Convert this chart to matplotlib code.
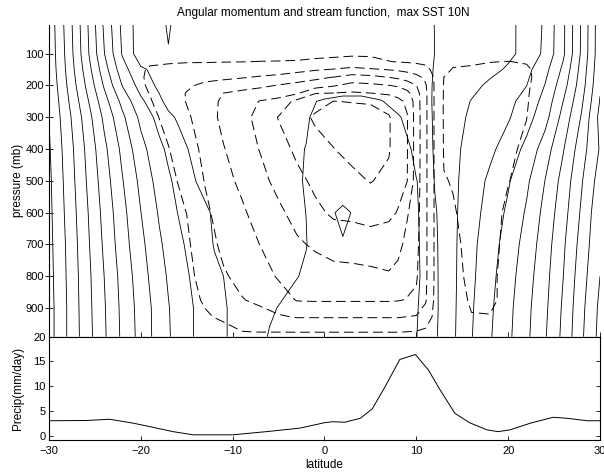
import numpy as np
import matplotlib
matplotlib.use("Agg")
import matplotlib.pyplot as plt

plt.rcParams['font.family'] = ['Liberation Sans', 'DejaVu Sans']
plt.rcParams['lines.scale_dashes'] = False
plt.rcParams['lines.dashed_pattern'] = [7, 3.5]

# angular momentum (normalised by Omega a^2)
m_lat = [-30, -28, -26, -24, -22, -20, -18, -17, -16, -14, -12, -10, -8, -6, -4, -2,
         0, 2, 4, 6, 8, 10, 11, 12, 13, 14, 16, 18, 20, 22, 24, 26, 28, 30]
m_p = [10, 100, 150, 200, 250, 300, 400, 500, 600, 700, 800, 900, 990]
m_vals = [
    [0.767, 0.808, 0.854, 0.903, 0.945, 0.971, 0.968, 0.957, 0.968, 0.970, 0.970, 0.970, 0.970, 0.970, 0.970, 0.970, 0.970, 0.970, 0.970, 0.970, 0.970, 0.970, 0.970, 0.9595, 0.9575, 0.9554, 0.9513, 0.9472, 0.9431, 0.9357, 0.9169, 0.8836, 0.8375, 0.7871],
    [0.766, 0.806, 0.852, 0.899, 0.942, 0.972, 0.968, 0.9615, 0.968, 0.970, 0.970, 0.970, 0.970, 0.970, 0.970, 0.970, 0.970, 0.970, 0.970, 0.970, 0.970, 0.970, 0.970, 0.9598, 0.9579, 0.9558, 0.9516, 0.9474, 0.9432, 0.9355, 0.9154, 0.8833, 0.8365, 0.7871],
    [0.765, 0.804, 0.847, 0.891, 0.932, 0.957, 0.966, 0.968, 0.969, 0.970, 0.970, 0.970, 0.970, 0.970, 0.970, 0.970, 0.970, 0.970, 0.970, 0.970, 0.970, 0.970, 0.965, 0.9589, 0.9564, 0.954, 0.9491, 0.9442, 0.9381, 0.9256, 0.9067, 0.8756, 0.8324, 0.785],
    [0.763, 0.801, 0.841, 0.882, 0.921, 0.948, 0.964, 0.967, 0.968, 0.970, 0.970, 0.970, 0.970, 0.970, 0.970, 0.970, 0.971, 0.972, 0.972, 0.971, 0.970, 0.970, 0.965, 0.958, 0.9546, 0.9512, 0.9444, 0.9371, 0.9287, 0.9203, 0.8995, 0.868, 0.8288, 0.7825],
    [0.761, 0.797, 0.834, 0.872, 0.906, 0.936, 0.956, 0.966, 0.968, 0.969, 0.970, 0.970, 0.970, 0.972, 0.975, 0.978, 0.9815, 0.984, 0.984, 0.981, 0.976, 0.970, 0.965, 0.9577, 0.953, 0.9484, 0.9393, 0.9319, 0.9246, 0.9133, 0.8933, 0.8598, 0.8233, 0.7788],
    [0.760, 0.793, 0.828, 0.864, 0.896, 0.925, 0.947, 0.956, 0.962, 0.966, 0.968, 0.970, 0.972, 0.975, 0.977, 0.979, 0.984, 0.987, 0.988, 0.986, 0.981, 0.975, 0.966, 0.9578, 0.9523, 0.9467, 0.937, 0.9295, 0.9219, 0.908, 0.8875, 0.8527, 0.818, 0.7741],
    [0.758, 0.789, 0.822, 0.855, 0.885, 0.913, 0.935, 0.944, 0.952, 0.966, 0.968, 0.970, 0.972, 0.975, 0.978, 0.9802, 0.985, 0.988, 0.989, 0.988, 0.985, 0.978, 0.967, 0.9583, 0.9514, 0.9445, 0.9336, 0.9242, 0.9115, 0.8947, 0.870, 0.8413, 0.8083, 0.7782],
    [0.756, 0.787, 0.819, 0.850, 0.879, 0.905, 0.928, 0.937, 0.945, 0.9601, 0.966, 0.969, 0.972, 0.975, 0.978, 0.9805, 0.986, 0.990, 0.990, 0.989, 0.986, 0.9802, 0.978, 0.959, 0.9518, 0.9443, 0.9302, 0.9164, 0.9021, 0.8838, 0.8599, 0.8326, 0.8016, 0.7709],
    [0.755, 0.785, 0.816, 0.846, 0.874, 0.8997, 0.922, 0.931, 0.9401, 0.953, 0.962, 0.965, 0.969, 0.972, 0.976, 0.9801, 0.996, 1.003, 0.996, 0.990, 0.987, 0.981, 0.977, 0.9622, 0.9527, 0.944, 0.9279, 0.9123, 0.8964, 0.8776, 0.8541, 0.8277, 0.7969, 0.765],
    [0.754, 0.783, 0.814, 0.843, 0.871, 0.895, 0.917, 0.926, 0.935, 0.949, 0.9608, 0.964, 0.968, 0.972, 0.976, 0.9795, 0.990, 0.999, 0.994, 0.990, 0.987, 0.9815, 0.977, 0.9634, 0.9531, 0.9439, 0.9252, 0.9086, 0.8918, 0.8722, 0.850, 0.8231, 0.7923, 0.7629],
    [0.753, 0.782, 0.812, 0.8399, 0.867, 0.891, 0.913, 0.922, 0.931, 0.945, 0.957, 0.963, 0.968, 0.973, 0.977, 0.982, 0.988, 0.992, 0.992, 0.990, 0.987, 0.982, 0.977, 0.9639, 0.9533, 0.9438, 0.924, 0.9061, 0.8882, 0.8684, 0.8467, 0.8201, 0.7883, 0.760],
    [0.752, 0.781, 0.811, 0.838, 0.865, 0.888, 0.909, 0.919, 0.927, 0.942, 0.953, 0.963, 0.970, 0.978, 0.983, 0.986, 0.988, 0.989, 0.989, 0.988, 0.986, 0.981, 0.976, 0.964, 0.9534, 0.9435, 0.9222, 0.9036, 0.8855, 0.8653, 0.8442, 0.8169, 0.785, 0.7557],
    [0.752, 0.781, 0.810, 0.837, 0.864, 0.887, 0.909, 0.918, 0.927, 0.942, 0.953, 0.963, 0.972, 0.981, 0.986, 0.988, 0.990, 0.990, 0.990, 0.988, 0.986, 0.9805, 0.972, 0.963, 0.953, 0.943, 0.921, 0.902, 0.884, 0.864, 0.842, 0.815, 0.783, 0.754],
]
m_levels = [0.76, 0.78, 0.80, 0.82, 0.84, 0.86, 0.88, 0.90, 0.92, 0.94, 0.96, 0.98, 1.00]

# stream function, one list per latitude (top to bottom)
psi_lat = [-30, -21, -19, -17, -15, -13, -11, -9, -7, -5, -3, -1, 1, 3, 5, 7, 8, 9,
           10, 11, 12, 13, 14, 16, 18, 20, 22, 24, 30]
psi_p = [10, 100, 125, 150, 175, 200, 225, 250, 300, 400, 500, 600, 700, 800, 875, 928, 975, 990]
psi_cols = [
    [0] * 18,
    [0, -0.3, -0.55, -0.7, -0.7, -0.7, -0.7, -0.65, -0.6, -0.5, -0.45, -0.4, -0.35, -0.3, -0.25, -0.2, -0.1, -0.05],
    [0, -0.68, -0.88, -1.1, -1.15, -1.1, -1.02, -0.95, -0.8, -0.65, -0.55, -0.45, -0.4, -0.35, -0.3, -0.22, -0.1, -0.05],
    [0, -0.7, -0.92, -1.2, -1.4, -1.5, -1.45, -1.38, -1.22, -0.97, -0.82, -0.68, -0.58, -0.5, -0.42, -0.32, -0.15, -0.08],
    [0, -0.7, -0.95, -1.3, -1.6, -1.85, -2.05, -2.05, -1.85, -1.45, -1.2, -1.01, -0.85, -0.7, -0.55, -0.4, -0.2, -0.1],
    [0, -0.7, -0.95, -1.35, -1.75, -2.2, -2.4, -2.5, -2.5, -2.3, -2.05, -1.8, -1.6, -1.4, -1.15, -0.85, -0.4, -0.2],
    [0, -0.72, -0.97, -1.38, -1.83, -2.4, -3.02, -3.2, -3.25, -2.95, -2.7, -2.45, -2.2, -1.9, -1.55, -1.2, -0.6, -0.3],
    [0, -0.73, -0.98, -1.45, -1.95, -2.6, -3.25, -3.5, -3.7, -3.5, -3.2, -2.85, -2.55, -2.25, -1.95, -1.6, -0.97, -0.5],
    [0, -0.74, -1.01, -1.5, -2.1, -2.8, -3.45, -4.05, -4.3, -4.05, -3.7, -3.4, -3.02, -2.6, -2.2, -1.65, -1.02, -0.55],
    [0, -0.75, -1.02, -1.55, -2.25, -3.05, -3.6, -4.3, -5.05, -4.6, -4.3, -3.8, -3.45, -3.1, -2.55, -1.9, -1.02, -0.55],
    [0, -0.77, -1.04, -1.7, -2.5, -3.3, -3.9, -5.3, -5.6, -5.2, -4.75, -4.35, -3.85, -3.4, -3.05, -2.05, -1.03, -0.55],
    [0, -0.8, -1.12, -1.9, -2.8, -3.5, -4.98, -5.6, -6.15, -5.65, -5.2, -4.8, -4.15, -3.5, -3.08, -2.05, -1.03, -0.55],
    [0, -0.82, -1.2, -2.05, -3.05, -3.9, -5.05, -6.02, -6.4, -5.98, -5.55, -5.15, -4.45, -3.6, -3.08, -2.05, -1.03, -0.55],
    [0, -0.86, -1.3, -2.25, -3.4, -4.3, -5.15, -5.95, -6.5, -6.3, -5.75, -5.2, -4.5, -3.65, -3.08, -2.05, -1.03, -0.55],
    [0, -0.85, -1.25, -2.1, -3.3, -4.2, -5.03, -5.9, -6.4, -6.3, -6.05, -5.35, -4.55, -3.75, -3.08, -2.05, -1.03, -0.55],
    [0, -0.8, -1.02, -1.95, -3.02, -4.02, -4.9, -5.45, -6.1, -6.1, -5.75, -5.2, -4.5, -3.9, -3.08, -2.05, -1.03, -0.55],
    [0, -0.78, -0.95, -1.85, -2.85, -3.85, -4.75, -5.2, -5.4, -5.4, -5.3, -4.95, -4.3, -3.7, -3.05, -2.05, -1.03, -0.55],
    [0, -0.75, -0.9, -1.7, -2.6, -3.5, -4.3, -4.85, -5.05, -5.05, -5.02, -4.1, -3.7, -3.35, -2.95, -1.98, -0.99, -0.5],
    [0, -0.7, -0.85, -1.5, -2.3, -3.02, -3.4, -3.5, -3.55, -3.55, -3.5, -3.4, -3.25, -3.1, -2.85, -1.92, -0.95, -0.5],
    [0, -0.6, -0.8, -1.25, -1.8, -2.1, -2.2, -2.2, -2.2, -2.2, -2.2, -2.2, -2.2, -2.2, -2.1, -1.6, -0.8, -0.45],
    [0, -0.35, -0.5, -0.75, -0.9, -0.9, -0.9, -0.9, -0.9, -0.9, -0.9, -0.9, -0.9, -0.9, -0.85, -0.75, -0.4, -0.2],
    [0, 0.3, 0.5, 0.8, 1.01, 1.1, 1.12, 1.15, 1.15, 1.1, 0.95, 0.85, 0.75, 0.7, 0.6, 0.4, 0.2, 0.1],
    [0, 0.5, 0.85, 1.05, 1.2, 1.3, 1.33, 1.35, 1.35, 1.25, 1.05, 0.93, 0.85, 0.8, 0.7, 0.5, 0.25, 0.1],
    [0, 0.6, 0.9, 1.1, 1.3, 1.4, 1.43, 1.45, 1.45, 1.45, 1.4, 1.3, 1.2, 1.15, 1.08, 0.97, 0.45, 0.2],
    [0, 0.65, 0.98, 1.15, 1.3, 1.35, 1.38, 1.4, 1.4, 1.35, 1.3, 1.2, 1.15, 1.1, 1.1, 0.98, 0.5, 0.2],
    [0, 0.7, 1.01, 1.15, 1.2, 1.2, 1.2, 1.2, 1.15, 1.1, 1.02, 0.9, 0.87, 0.85, 0.85, 0.55, 0.3, 0.1],
    [0, 0.6, 0.95, 1.1, 1.1, 1.08, 1.06, 1.05, 1.01, 0.9, 0.8, 0.7, 0.6, 0.55, 0.5, 0.4, 0.2, 0.1],
    [0, 0.3, 0.5, 0.7, 0.75, 0.7, 0.65, 0.6, 0.55, 0.45, 0.4, 0.35, 0.3, 0.25, 0.2, 0.15, 0.1, 0.05],
    [0] * 18,
]
psi_levels = [-6, -5, -4, -3, -2, -1, 1]

# precipitation
pr_lat = [-30, -26, -23.4, -20.8, -19.0, -16.5, -14.3, -10, -6.3, -2.7, 0, 0.9, 2.2, 3.9, 5.2,
          6.6, 8.2, 9.9, 11.3, 12.6, 14.2, 15.8, 17.7, 18.9, 20.2, 22.4, 24.9, 26.4, 28.6, 30]
pr_val = [3.0, 3.05, 3.3, 2.5, 1.8, 0.8, 0.15, 0.15, 0.8, 1.5, 2.6, 2.8, 2.7, 3.5, 5.4,
          9.9, 15.4, 16.4, 13.3, 9.2, 4.5, 2.6, 1.15, 0.8, 1.15, 2.5, 3.7, 3.5, 3.0, 3.0]

fig = plt.figure(figsize=(6.04, 4.74), dpi=100)
ax1 = fig.add_axes([0.0811, 0.2897, 0.9123, 0.6576])
ax2 = fig.add_axes([0.0811, 0.0717, 0.9123, 0.2179])

ax1.contour(m_lat, m_p, np.array(m_vals), levels=m_levels, colors='k',
            linewidths=0.6, linestyles='solid')
psi = np.array(psi_cols).T
ax1.contour(psi_lat, psi_p, psi, levels=psi_levels, colors='k',
            linewidths=0.7, linestyles='dashed')

ax1.set_xlim(-30, 30)
ax1.set_ylim(990, 10)
ax1.set_yticks([100, 200, 300, 400, 500, 600, 700, 800, 900])
ax1.set_xticks([-30, -20, -10, 0, 10, 20, 30])
ax1.tick_params(axis='y', direction='inout', length=5.5, width=0.6, pad=1, labelsize=8)
ax1.tick_params(axis='x', direction='inout', length=7, width=0.6, labelbottom=False)
ax1.spines['top'].set_visible(False)
ax1.spines['right'].set_visible(False)
for s in ax1.spines.values():
    s.set_linewidth(0.8)
ax1.set_ylabel('pressure (mb)', fontsize=8.5)
ax1.yaxis.set_label_coords(-0.045, 0.5)

ax2.plot(pr_lat, pr_val, color='k', lw=0.7)
ax2.set_xlim(-30, 30)
ax2.set_ylim(-0.9, 20)
ax2.set_yticks([0, 5, 10, 15, 20])
ax2.set_xticks([-30, -20, -10, 0, 10, 20, 30])
ax2.tick_params(axis='y', direction='in', length=3, width=0.6, right=True, pad=2.5, labelsize=8)
ax2.tick_params(axis='x', direction='in', length=3, width=0.6, pad=4.5, labelsize=8)
for s in ax2.spines.values():
    s.set_linewidth(0.8)
ax2.set_ylabel('Precip(mm/day)', fontsize=8.5)
ax2.yaxis.set_label_coords(-0.045, 0.5)
ax2.set_xlabel('latitude', fontsize=8.5, labelpad=2)

fig.text(323 / 604, 1 - 13 / 474, 'Angular momentum and stream function,  max SST 10N',
         ha='center', va='center', fontsize=8.5)

fig.savefig('out.png', dpi=100)
